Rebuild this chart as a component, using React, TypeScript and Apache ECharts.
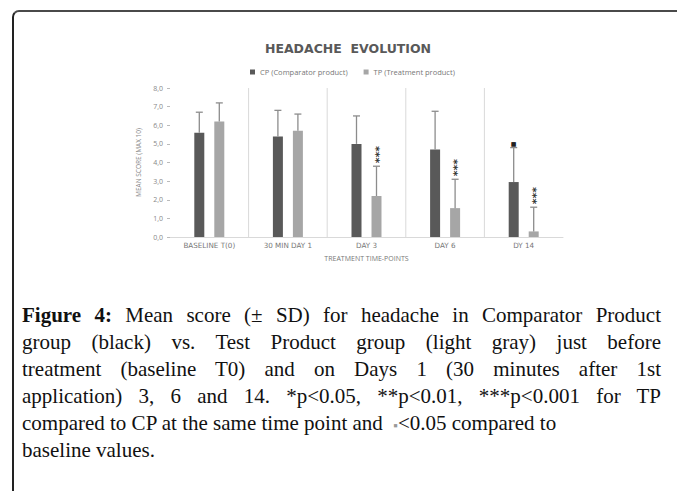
import React, { useEffect, useRef } from "react";
import * as echarts from "echarts";

const categories = ["BASELINE T(0)", "30 MIN DAY 1", "DAY 3", "DAY 6", "DY 14"];
const cpMean = [5.6, 5.4, 5.0, 4.7, 2.95];
const cpSD = [1.1, 1.4, 1.5, 2.05, 1.85];
const tpMean = [6.2, 5.7, 2.2, 1.55, 0.3];
const tpSD = [1.0, 0.9, 1.6, 1.55, 1.3];
const cpMarks = ["", "", "", "", "■"];
const tpMarks = ["", "", "***", "***", "***"];
const yMin = 0;
const yMax = 8;
const yStep = 1;

const BAR_W = 10;

function errorSeries(name: string, means: number[], sds: number[], marks: string[], offset: number) {
  return {
    type: "custom",
    name,
    z: 5,
    data: means.map((m, i) => [i, m, m + sds[i]]),
    renderItem: (params: any, api: any) => {
      const i = api.value(0);
      const lo = api.coord([i, api.value(1)]);
      const hi = api.coord([i, api.value(2)]);
      const x = lo[0] + offset;
      const children: any[] = [
        { type: "line", shape: { x1: x, y1: lo[1], x2: x, y2: hi[1] }, style: { stroke: "#8c8c8c", lineWidth: 1.3 } },
        { type: "line", shape: { x1: x - 3.5, y1: hi[1], x2: x + 3.5, y2: hi[1] }, style: { stroke: "#8c8c8c", lineWidth: 1.3 } },
      ];
      const mk = marks[params.dataIndex];
      if (mk === "***") {
        // stars stacked vertically: a single text rotated by 90 degrees (reads upward)
        children.push({
          type: "text",
          x: x + 2.5,
          y: hi[1] - 3,
          rotation: Math.PI / 2,
          style: {
            text: mk,
            fill: "#333",
            font: "bold 11px DejaVu Sans",
            textAlign: "left",
            textVerticalAlign: "middle",
          },
        });
      } else if (mk) {
        children.push({
          type: "text",
          x: x,
          y: hi[1] - 4,
          style: { text: mk, fill: "#222", font: "6px DejaVu Sans", textAlign: "center", textVerticalAlign: "middle" },
        });
      }
      return { type: "group", children };
    },
  };
}

function Chart() {
  const ref = useRef<HTMLDivElement>(null);
  useEffect(() => {
    if (!ref.current) return;
    const chart = echarts.init(ref.current, undefined, { renderer: "svg" });
    chart.setOption({
      animation: false,
      textStyle: { fontFamily: "Open Sans" },
      title: {
        text: "HEADACHE  EVOLUTION",
        left: 343,
        top: 37,
        textAlign: "center",
        textStyle: { fontSize: 12.5, fontWeight: "bold", color: "#595959", fontFamily: "DejaVu Sans" },
      },
      legend: {
        left: 245,
        top: 63,
        icon: "rect",
        itemWidth: 5,
        itemHeight: 5,
        itemGap: 16,
        data: ["CP (Comparator product)", "TP (Treatment product)"],
        textStyle: { fontSize: 7.5, color: "#777", fontFamily: "Open Sans" },
      },
      grid: { left: 170, right: 114, top: 88, bottom: 254 },
      xAxis: {
        type: "category",
        data: categories,
        axisLine: { lineStyle: { color: "#d9d9d9" } },
        axisTick: { show: false },
        splitLine: { show: false },
        axisLabel: { fontSize: 7.2, color: "#777", margin: 5, fontFamily: "DejaVu Sans" },
        name: "TREATMENT TIME-POINTS",
        nameLocation: "middle",
        nameGap: 18,
        nameTextStyle: { fontSize: 7, color: "#777", fontFamily: "Open Sans" },
      },
      yAxis: {
        type: "value",
        min: yMin,
        max: yMax,
        interval: yStep,
        axisLine: { show: false },
        axisTick: { show: true, length: 3, lineStyle: { color: "#bbb" } },
        splitLine: { show: false },
        axisLabel: {
          fontSize: 7,
          color: "#888",
          margin: 7,
          formatter: (v: number) => v.toFixed(1).replace(".", ","),
        },
        name: "MEAN SCORE (MAX 10)",
        nameLocation: "middle",
        nameGap: 19,
        nameTextStyle: { fontSize: 6.5, color: "#888" },
      },
      series: [
        {
          type: "custom",
          name: "dividers",
          z: 1,
          silent: true,
          data: categories.slice(0, -1).map((_, i) => [i, 0]),
          renderItem: (params: any, api: any) => {
            const c = api.coord([api.value(0), 0]);
            const w = api.size([1, 0])[0];
            const cs = params.coordSys;
            const x = c[0] + w / 2;
            return {
              type: "line",
              shape: { x1: x, y1: cs.y, x2: x, y2: cs.y + cs.height },
              style: { stroke: "#d9d9d9", lineWidth: 1 },
            };
          },
        },
        {
          type: "bar",
          name: "CP (Comparator product)",
          data: cpMean,
          barWidth: BAR_W,
          barGap: "100%",
          itemStyle: { color: "#595959" },
          z: 3,
        },
        {
          type: "bar",
          name: "TP (Treatment product)",
          data: tpMean,
          barWidth: BAR_W,
          barGap: "100%",
          itemStyle: { color: "#a6a6a6" },
          z: 3,
        },
        errorSeries("CP error", cpMean, cpSD, cpMarks, -BAR_W),
        errorSeries("TP error", tpMean, tpSD, tpMarks, BAR_W),
      ],
    });
    return () => chart.dispose();
  }, []);
  return <div ref={ref} style={{ position: "absolute", left: 0, top: 0, width: 677, height: 491 }} />;
}

const lineBase: React.CSSProperties = { whiteSpace: "nowrap", height: 27 };
const just: React.CSSProperties = { ...lineBase, textAlign: "justify", textAlignLast: "justify" as any };

export default function App() {
  return (
    <div style={{ position: "fixed", left: 0, top: 0, width: 677, height: 491, background: "#fff", overflow: "hidden" }}>
      <div
        style={{
          position: "absolute",
          left: 12,
          top: 10,
          width: 720,
          height: 540,
          borderTop: "2px solid #4a4a4a",
          borderLeft: "2px solid #222",
          borderTopLeftRadius: 7,
        }}
      />
      <Chart />
      <div
        style={{
          position: "absolute",
          left: 22,
          top: 302,
          width: 639,
          fontFamily: "'Liberation Serif', serif",
          fontSize: 21,
          lineHeight: "27px",
          color: "#111",
        }}
      >
        <div style={just}>
          <b>Figure 4:</b> Mean score (± SD) for headache in Comparator Product
        </div>
        <div style={just}>group (black) vs. Test Product group (light gray) just before</div>
        <div style={just}>treatment (baseline T0) and on Days 1 (30 minutes after 1st</div>
        <div style={just}>application) 3, 6 and 14. *p&lt;0.05, **p&lt;0.01, ***p&lt;0.001 for TP</div>
        <div style={lineBase}>
          compared to CP at the same time point and &nbsp;<span style={{ color: "#999", fontSize: 13 }}>▪</span>&lt;0.05 compared to
        </div>
        <div style={lineBase}>baseline values.</div>
      </div>
    </div>
  );
}
